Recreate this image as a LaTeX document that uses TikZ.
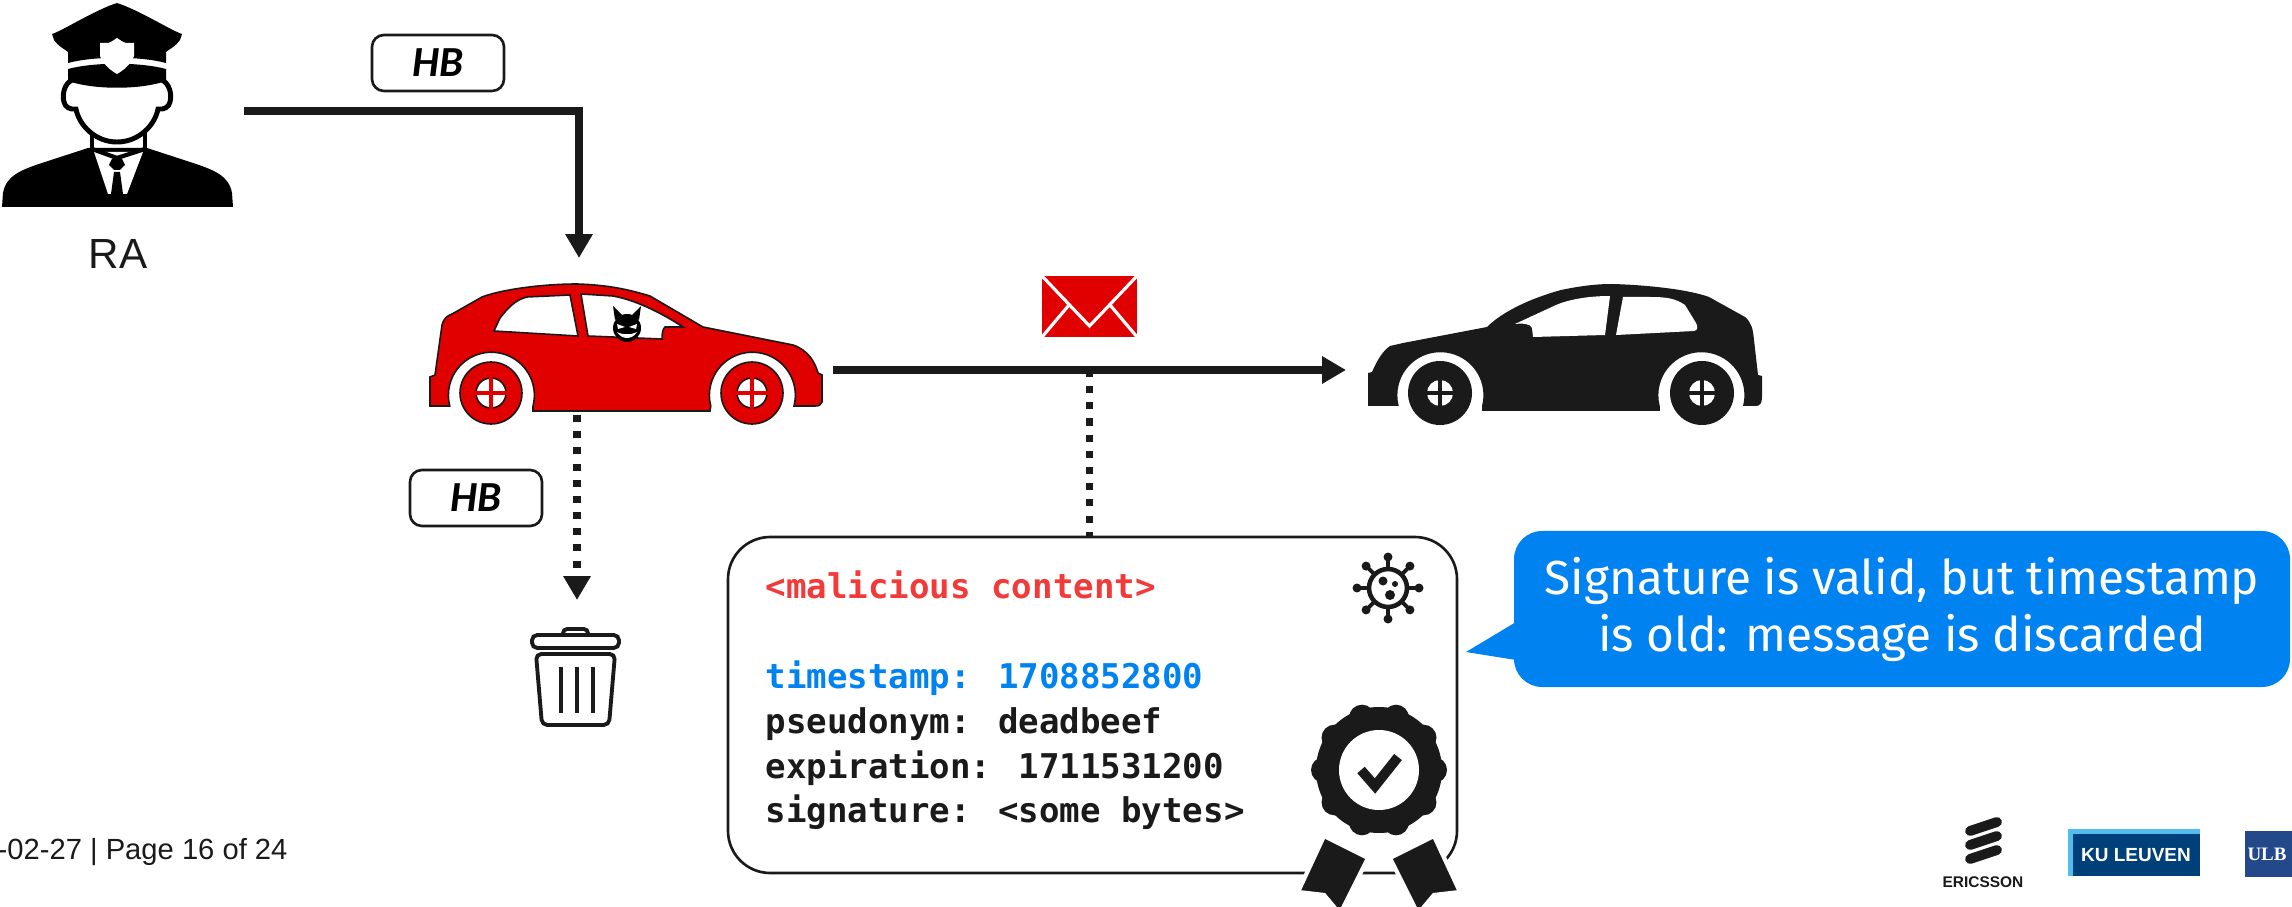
\documentclass[tikz,border=0pt]{standalone}
\usepackage{fontspec}
\setmainfont{Liberation Sans}
\newfontfamily\codefont{DejaVu Sans Mono}
\newfontfamily\hildafont{Carlito}
\newfontfamily\bubblefont{Fira Sans}
\newfontfamily\ulbfont{Liberation Serif}
\usetikzlibrary{arrows.meta}
\definecolor{carred}{HTML}{E00000}
\definecolor{inkblack}{HTML}{1A1A1A}
\definecolor{evilred}{HTML}{F23A3A}
\definecolor{ericblue}{HTML}{0082F0}
\definecolor{kublue}{HTML}{00407A}
\definecolor{kulight}{HTML}{52BDEC}
\definecolor{ulbblue}{HTML}{23498A}

\begin{document}
\begin{tikzpicture}[
  flow/.style={draw=inkblack, line width=2.1pt, -{Triangle[length=6.8pt,width=7.4pt]}},
  dotflow/.style={draw=inkblack, line width=2pt, dash pattern=on 2pt off 2.6pt},
  hbbox/.style={draw=inkblack, line width=0.75pt, rounded corners=3.4pt,
    minimum width=1.32cm, minimum height=0.56cm,
    font=\hildafont\fontsize{12.2}{14}\selectfont\bfseries\itshape},
  codeline/.style={anchor=base west, inner sep=0pt,
    font=\codefont\fontsize{9.7}{12}\selectfont\bfseries},
  caroutline/.style={draw=inkblack, line width=0.45pt},
  ]
  % helper grid: comment for final drawing
  % \draw[help lines,step=.5] (0,-9.07) grid (22.92,0);

  \useasboundingbox (0,0) rectangle (22.92,-9.07);

  % officer
  \fill[black] (0.02,-2.07) -- (0.03,-1.93) .. controls (0.06,-1.76) and (0.20,-1.70) .. (0.45,-1.62)
    -- (0.88,-1.48) -- (1.47,-1.48) -- (1.90,-1.62) .. controls (2.15,-1.70) and (2.29,-1.76) .. (2.32,-1.93)
    -- (2.33,-2.07) -- cycle;
  \fill[white] (0.94,-1.52) -- (1.43,-1.52) -- (1.27,-1.94) -- (1.08,-1.94) -- cycle;
  \fill[black] (1.12,-1.59) -- (1.22,-1.59) -- (1.25,-1.65) -- (1.20,-1.70) -- (1.14,-1.70) -- (1.09,-1.65) -- cycle;
  \fill[black] (1.14,-1.72) -- (1.20,-1.72) -- (1.23,-1.94) -- (1.11,-1.94) -- cycle;
  \draw[black, line width=1.2pt] (0.92,-1.49) -- (1.17,-1.58) -- (1.45,-1.49);
  \draw[black, line width=1.4pt] (0.92,-1.30) -- (0.92,-1.50) (1.45,-1.30) -- (1.45,-1.50);
  \filldraw[fill=white, draw=black, line width=1.4pt] (0.72,-0.80) .. controls (0.64,-0.84) and (0.62,-0.95) .. (0.64,-1.02)
    .. controls (0.65,-1.07) and (0.70,-1.10) .. (0.76,-1.09) .. controls (0.79,-1.25) and (0.95,-1.42) .. (1.17,-1.42)
    .. controls (1.39,-1.42) and (1.55,-1.25) .. (1.58,-1.09) .. controls (1.64,-1.10) and (1.69,-1.07) .. (1.70,-1.02)
    .. controls (1.72,-0.95) and (1.70,-0.84) .. (1.62,-0.80) -- cycle;
  % cap, visor and badge
  \fill[black] (0.52,-0.34) .. controls (0.62,-0.31) and (0.95,-0.10) .. (1.17,-0.03)
    .. controls (1.39,-0.10) and (1.72,-0.31) .. (1.82,-0.34) -- (1.80,-0.40)
    .. controls (1.75,-0.47) and (1.68,-0.50) .. (1.66,-0.52) -- (1.66,-0.63)
    .. controls (1.40,-0.56) and (0.94,-0.56) .. (0.68,-0.63) -- (0.68,-0.52)
    .. controls (0.66,-0.50) and (0.59,-0.47) .. (0.54,-0.40) -- cycle;
  \fill[black] (0.68,-0.69) .. controls (0.94,-0.62) and (1.40,-0.62) .. (1.66,-0.69) -- (1.66,-0.81)
    .. controls (1.40,-0.90) and (0.94,-0.90) .. (0.68,-0.81) -- cycle;
  \fill[white] (1.00,-0.43) -- (1.08,-0.43) .. controls (1.12,-0.42) and (1.15,-0.39) .. (1.17,-0.38)
    .. controls (1.19,-0.39) and (1.22,-0.42) .. (1.26,-0.43) -- (1.34,-0.43) -- (1.34,-0.56)
    .. controls (1.30,-0.66) and (1.22,-0.71) .. (1.17,-0.74) .. controls (1.12,-0.71) and (1.04,-0.66) .. (1.00,-0.56) -- cycle;
  \node[anchor=base, text=inkblack, font=\fontsize{12}{14}\selectfont] (ra) at (1.18,-2.69) {RA};

  % key issued by RA
  \node[hbbox] (hbissue) at (4.38,-0.63) {HB};
  \coordinate (raout) at (2.44,-1.11);
  \coordinate (redtop) at (5.79,-2.58);
  \draw[flow] (raout) -| (redtop);

  % red car (attacker)
  \filldraw[fill=carred, caroutline] (4.30,-4.05) -- (4.30,-3.77) -- (4.35,-3.75) -- (4.42,-3.25)
    .. controls (4.44,-3.18) and (4.47,-3.16) .. (4.52,-3.14) -- (4.82,-2.97)
    .. controls (5.00,-2.90) and (5.40,-2.84) .. (5.77,-2.84) .. controls (6.10,-2.85) and (6.30,-2.90) .. (6.50,-2.96)
    -- (7.03,-3.27) -- (7.93,-3.45) .. controls (8.08,-3.50) and (8.15,-3.62) .. (8.18,-3.73)
    -- (8.22,-3.75) -- (8.22,-4.02) .. controls (8.21,-4.05) and (8.19,-4.06) .. (8.15,-4.06)
    -- (7.94,-4.06) arc (-14.5:194.5:0.43) -- (7.10,-4.11) -- (5.33,-4.11)
    -- (5.33,-4.06) arc (-14.5:194.5:0.43) -- (4.30,-4.06) -- cycle;
  \filldraw[fill=white, caroutline] (4.94,-3.31) -- (5.00,-3.18) .. controls (5.08,-3.08) and (5.15,-3.00) .. (5.27,-2.97)
    -- (5.70,-2.95) -- (5.78,-3.36) -- cycle;
  \filldraw[fill=white, caroutline] (5.81,-2.94) -- (6.13,-2.96) .. controls (6.35,-3.00) and (6.60,-3.12) .. (6.83,-3.27)
    -- (6.65,-3.27) .. controls (6.63,-3.29) and (6.62,-3.32) .. (6.62,-3.39) -- (5.88,-3.36) -- cycle;
  \foreach \wx in {4.91,7.52} {
    \filldraw[fill=carred, caroutline] (\wx,-3.93) circle (0.31);
    \filldraw[fill=white, caroutline] (\wx,-3.93) circle (0.15);
    \draw[carred, line width=1.4pt] (\wx-0.16,-3.93) -- (\wx+0.16,-3.93) (\wx,-3.77) -- (\wx,-4.09);
  }
  % devil at the wheel
  \fill[black] (6.27,-3.28) circle (0.14);
  \fill[black] (6.15,-3.20) -- (6.13,-3.06) -- (6.22,-3.15) -- cycle;
  \fill[black] (6.39,-3.20) -- (6.41,-3.06) -- (6.32,-3.15) -- cycle;
  \fill[white] (6.17,-3.24) -- (6.25,-3.27) -- (6.18,-3.29) -- cycle;
  \fill[white] (6.37,-3.24) -- (6.29,-3.27) -- (6.36,-3.29) -- cycle;
  \fill[white] (6.17,-3.32) .. controls (6.22,-3.40) and (6.32,-3.40) .. (6.37,-3.32)
    .. controls (6.32,-3.35) and (6.22,-3.35) .. (6.17,-3.32);

  % black car (receiver)
  \fill[inkblack] (13.68,-4.05) -- (13.68,-3.73) -- (13.72,-3.72) .. controls (13.78,-3.58) and (13.84,-3.50) .. (13.90,-3.46)
    -- (14.03,-3.43) -- (14.87,-3.27) .. controls (15.00,-3.14) and (15.25,-3.00) .. (15.61,-2.90)
    .. controls (15.85,-2.85) and (16.00,-2.84) .. (16.12,-2.84) .. controls (16.50,-2.85) and (16.90,-2.90) .. (17.09,-2.97)
    -- (17.45,-3.17) .. controls (17.52,-3.23) and (17.53,-3.30) .. (17.54,-3.40) -- (17.58,-3.75) -- (17.62,-3.76)
    -- (17.62,-3.97) .. controls (17.62,-4.03) and (17.60,-4.06) .. (17.56,-4.06)
    -- (17.43,-4.06) arc (-14.5:194.5:0.43) -- (16.60,-4.11) -- (14.82,-4.11)
    -- (14.82,-4.06) arc (-14.5:194.5:0.43) -- (13.68,-4.06) -- cycle;
  \fill[white] (15.15,-3.24) .. controls (15.23,-3.23) and (15.31,-3.24) .. (15.32,-3.28) -- (15.33,-3.37)
    -- (16.05,-3.35) -- (16.10,-2.96) .. controls (15.90,-2.96) and (15.70,-2.99) .. (15.56,-3.05) -- cycle;
  \fill[white] (16.16,-3.35) -- (16.94,-3.31) .. controls (16.98,-3.30) and (16.98,-3.27) .. (16.96,-3.23)
    -- (16.85,-3.05) .. controls (16.75,-2.98) and (16.65,-2.97) .. (16.50,-2.97) -- (16.23,-2.97) -- cycle;
  \foreach \wx in {14.40,17.02} {
    \fill[inkblack] (\wx,-3.93) circle (0.32);
    \fill[white] (\wx,-3.93) circle (0.13);
    \draw[inkblack, line width=0.9pt] (\wx-0.14,-3.93) -- (\wx+0.14,-3.93) (\wx,-3.79) -- (\wx,-4.07);
  }

  % message sent
  \fill[carred] (10.42,-2.76) rectangle (11.37,-3.37);
  \draw[white, line width=0.9pt] (10.42,-2.76) -- (10.895,-3.26) -- (11.37,-2.76)
    (10.42,-3.37) -- (10.69,-3.05) (11.37,-3.37) -- (11.10,-3.05);
  \coordinate (redfront) at (8.33,-3.70);
  \coordinate (blackfront) at (13.46,-3.70);
  \draw[flow] (redfront) -- (blackfront);

  % discarded key
  \node[hbbox] (hbdrop) at (4.76,-4.98) {HB};
  \coordinate (redbottom) at (5.77,-4.15);
  \coordinate (trashtop) at (5.77,-6.00);
  \draw[dotflow, -{Triangle[length=6.8pt,width=7.4pt]}] (redbottom) -- (trashtop);
  % trash can
  \draw[inkblack, line width=1.1pt, rounded corners=1.2pt] (5.63,-6.36) -- (5.63,-6.29) -- (5.88,-6.29) -- (5.88,-6.36);
  \draw[inkblack, line width=1.1pt, rounded corners=1.5pt] (5.32,-6.35) rectangle (6.19,-6.48);
  \draw[inkblack, line width=1.1pt, rounded corners=1.5pt] (5.36,-6.54) -- (6.15,-6.54) -- (6.09,-7.25) -- (5.42,-7.25) -- cycle;
  \foreach \bx in {5.61,5.77,5.93}
    \draw[inkblack, line width=1.4pt] (\bx,-6.67) -- (\bx,-7.13);

  % message contents
  \node[draw=inkblack, line width=0.75pt, rounded corners=12pt, minimum width=7.29cm, minimum height=3.36cm] (msg) at (10.925,-7.05) {};
  \coordinate (tap) at (10.89,-3.70);
  \draw[dotflow] (tap) -- (tap |- msg.north);
  \node[codeline, text=evilred] (lmal) at (7.65,-5.98) {<malicious content>};
  \node[codeline, text=ericblue] (lts) at (7.65,-6.88) {timestamp: 1708852800};
  \node[codeline, text=inkblack] (lpseudo) at (7.65,-7.33) {pseudonym: deadbeef};
  \node[codeline, text=inkblack] (lexp) at (7.65,-7.78) {expiration: 1711531200};
  \node[codeline, text=inkblack] (lsig) at (7.65,-8.22) {signature: <some bytes>};

  % virus
  \coordinate (virus) at (13.88,-5.88);
  \draw[inkblack, line width=1.3pt] (virus) circle (0.19);
  \foreach \a in {0,45,...,315} {
    \draw[inkblack, line width=1.1pt] (virus) ++(\a:0.19) -- ++(\a:0.10);
    \fill[inkblack] (virus) ++(\a:0.31) circle (0.045);
  }
  \fill[inkblack] (13.83,-5.81) circle (0.045);
  \fill[inkblack] (13.95,-5.84) circle (0.03);
  \fill[inkblack] (13.90,-5.95) circle (0.05);

  % valid signature seal
  \coordinate (seal) at (13.79,-7.70);
  \filldraw[fill=inkblack, draw=white, line width=1.2pt] (13.24,-8.36) -- (13.68,-8.58) -- (13.40,-9.14) -- (13.24,-8.95) -- (12.98,-8.92) -- cycle;
  \filldraw[fill=inkblack, draw=white, line width=1.2pt] (14.34,-8.36) -- (13.90,-8.58) -- (14.18,-9.14) -- (14.34,-8.95) -- (14.60,-8.92) -- cycle;
  \fill[white] (seal) circle (0.66);
  \foreach \a in {0,36,...,324}
    \fill[white] (seal) ++(\a:0.56) circle (0.17);
  \fill[inkblack] (seal) circle (0.63);
  \foreach \a in {0,36,...,324}
    \fill[inkblack] (seal) ++(\a:0.55) circle (0.13);
  \fill[white] (seal) circle (0.40);
  \draw[inkblack, line width=2.8pt] (13.61,-7.70) -- (13.75,-7.86) -- (13.98,-7.57);

  % verdict bubble
  \node[fill=ericblue, rounded corners=8pt, minimum width=7.76cm, minimum height=1.56cm, text=white, align=center,
    font=\bubblefont\fontsize{13.6}{16.2}\selectfont] (verdict) at (19.02,-6.09)
    {Signature is valid, but timestamp\\is old: message is discarded};
  \coordinate (tailtip) at (14.66,-6.52);
  \fill[ericblue] (15.16,-6.22) -- (tailtip) -- (15.16,-6.60) -- cycle;

  % footer
  \node[anchor=base west, inner sep=0pt, text=inkblack, font=\fontsize{8.3}{10}\selectfont] (footer) at (-0.03,-8.59) {-02-27 | Page 16 of 24};
  \foreach \dy in {0,0.14,0.28}
    \draw[inkblack, line width=2.8pt, line cap=round] (19.70,-8.31-\dy) -- (19.97,-8.22-\dy);
  \node[anchor=base, inner sep=0pt, text=inkblack, font=\bfseries\fontsize{4.4}{5}\selectfont] (ericsson) at (19.83,-8.87) {ERICSSON};
  \fill[kulight] (20.68,-8.29) rectangle (22.00,-8.76);
  \fill[kublue] (20.73,-8.34) rectangle (22.00,-8.76);
  \node[inner sep=0pt, text=white, font=\bfseries\fontsize{5.4}{6}\selectfont] (kul) at (21.36,-8.55) {KU LEUVEN};
  \fill[ulbblue] (22.45,-8.31) rectangle (22.95,-8.77);
  \node[inner sep=0pt, text=white, font=\ulbfont\bfseries\fontsize{5.4}{6}\selectfont] (ulb) at (22.67,-8.54) {ULB};
\end{tikzpicture}
\end{document}
